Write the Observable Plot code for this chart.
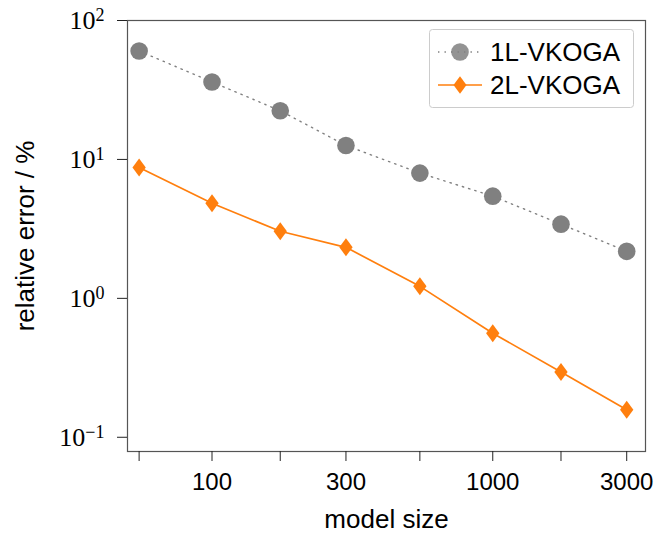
<!DOCTYPE html>
<html><head><meta charset="utf-8">
<script src="https://cdn.jsdelivr.net/npm/d3@7"></script>
<script src="https://cdn.jsdelivr.net/npm/@observablehq/plot@0.6"></script>
<style>
html,body{margin:0;padding:0;background:#fff;}
#chart{position:relative;width:656px;height:534px;}
</style></head><body><div id="chart"></div>
<script>
// ---- data ----
const modelSizes = [55, 100, 175, 300, 550, 1000, 1750, 3000];
const err1L = [60.3, 36.1, 22.4, 12.6, 7.97, 5.44, 3.42, 2.18];
const err2L = [8.76, 4.84, 3.04, 2.33, 1.22, 0.561, 0.295, 0.158];
const xTickLabels = [100, 300, 1000, 3000];
const yTicks = [0.1, 1, 10, 100];
const seriesNames = ["1L-VKOGA", "2L-VKOGA"];
const xLabel = "model size";
const yLabel = "relative error / %";

const d1 = modelSizes.map((x, i) => ({x, y: err1L[i]}));
const d2 = modelSizes.map((x, i) => ({x, y: err2L[i]}));

const GRAY = "#808080", ORANGE = "#ff7f0e";
const thinDiamond = {
  draw(context, size) {
    const r = Math.sqrt(size / Math.PI);
    const w = r * 0.74;
    context.moveTo(0, -r); context.lineTo(w, 0); context.lineTo(0, r); context.lineTo(-w, 0); context.closePath();
  }
};

const chart = Plot.plot({
  width: 656, height: 534,
  marginLeft: 127, marginRight: 11, marginTop: 20, marginBottom: 83,
  x: {type: "log", domain: [50, 3500]},
  y: {type: "log", domain: [0.079, 100]},
  style: {fontFamily: "'Liberation Sans', Arial, sans-serif", fontSize: "24px", color: "#000", background: "white", overflow: "visible"},
  marks: [
    Plot.frame({stroke: "#555", strokeWidth: 1.2}),
    Plot.axisX({ticks: modelSizes, tickFormat: d => xTickLabels.includes(d) ? String(d) : "", tickSize: 10, tickPadding: 11, stroke: "#222", label: null, fontSize: 24}),
    Plot.axisY({ticks: yTicks, tickFormat: d => "10^" + Math.round(Math.log10(d)), tickSize: 10, tickPadding: 13, stroke: "#222", label: null, fontSize: 26, fontFamily: "'Liberation Serif', 'DejaVu Serif', serif"}),
    Plot.line(d1, {x: "x", y: "y", stroke: GRAY, strokeWidth: 1.4, strokeDasharray: "1.4,5.1"}),
    Plot.dot(d1, {x: "x", y: "y", r: 8.8, fill: GRAY, stroke: "none"}),
    Plot.line(d2, {x: "x", y: "y", stroke: ORANGE, strokeWidth: 1.7}),
    Plot.dot(d2, {x: "x", y: "y", r: 9, symbol: thinDiamond, fill: ORANGE, stroke: "none"}),
    Plot.text([xLabel], {text: d => d, frameAnchor: "bottom", lineAnchor: "bottom", textAnchor: "middle", dy: 76, fontSize: 26}),
    Plot.text([yLabel], {text: d => d, frameAnchor: "left", lineAnchor: "middle", textAnchor: "middle", dx: -102, rotate: -90, fontSize: 26})
  ]
});

document.getElementById("chart").appendChild(chart);
const svg = d3.select(chart);

// superscripts for y tick labels
svg.selectAll('g[aria-label="y-axis tick label"] text').each(function() {
  const t = this.textContent;
  if (!t.includes("^")) return;
  const [base, exp] = t.split("^");
  const el = d3.select(this);
  el.text(base);
  el.append("tspan").attr("dy", -8).attr("font-size", "18px").text(exp.replace("-", "\u2212"));
});

// legend
const lg = svg.append("g").attr("font-family", "'Liberation Sans', Arial, sans-serif").attr("font-size", 26).attr("text-anchor", "start");
lg.append("rect").attr("x", 429.5).attr("y", 29.5).attr("width", 204).attr("height", 78).attr("rx", 3)
  .attr("fill", "white").attr("fill-opacity", 0.85).attr("stroke", "#cccccc").attr("stroke-width", 1);
const entries = [
  {name: seriesNames[0], y: 52, color: GRAY, dash: "1.4,5.1", sym: d3.symbolCircle, w: 1.4},
  {name: seriesNames[1], y: 85, color: ORANGE, dash: null, sym: thinDiamond, w: 1.7}
];
for (const e of entries) {
  lg.append("line").attr("x1", 438).attr("x2", 482).attr("y1", e.y).attr("y2", e.y)
    .attr("stroke", e.color).attr("stroke-width", e.w).attr("stroke-dasharray", e.dash);
  lg.append("path").attr("transform", `translate(460,${e.y})`)
    .attr("d", d3.symbol(e.sym, Math.PI * 8.8 * 8.8)()).attr("fill", e.color).attr("fill-opacity", e.sym === thinDiamond ? 1 : 0.85);
  lg.append("text").attr("x", 490).attr("y", e.y + 9).attr("text-anchor", "start").text(e.name);
}
</script></body></html>
